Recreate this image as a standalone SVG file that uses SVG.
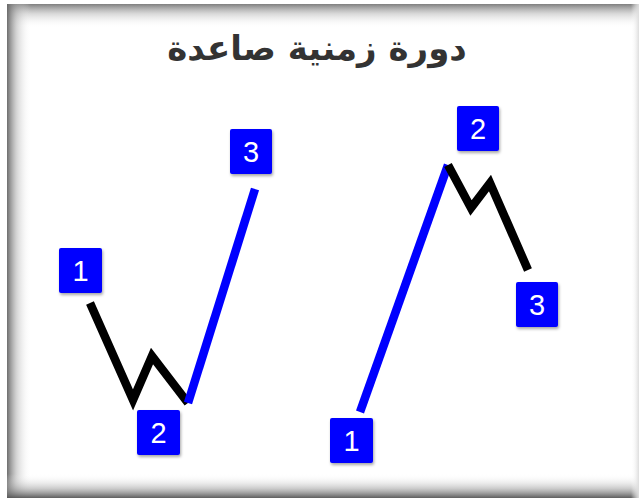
<svg xmlns="http://www.w3.org/2000/svg" width="639" height="498" viewBox="0 0 639 498">
<defs>
<linearGradient id="gTop" x1="0" y1="0" x2="0" y2="1"><stop offset="0" stop-color="#707070" stop-opacity="0.9"/><stop offset="0.4" stop-color="#b0b0b0" stop-opacity="0.5"/><stop offset="1" stop-color="#ffffff" stop-opacity="0"/></linearGradient>
<linearGradient id="gLeft" x1="0" y1="0" x2="1" y2="0"><stop offset="0" stop-color="#666" stop-opacity="0.95"/><stop offset="0.4" stop-color="#aaa" stop-opacity="0.5"/><stop offset="1" stop-color="#fff" stop-opacity="0"/></linearGradient>
<linearGradient id="gBottom" x1="0" y1="1" x2="0" y2="0"><stop offset="0" stop-color="#555" stop-opacity="0.95"/><stop offset="0.4" stop-color="#999" stop-opacity="0.5"/><stop offset="1" stop-color="#fff" stop-opacity="0"/></linearGradient>
<linearGradient id="gRight" x1="1" y1="0" x2="0" y2="0"><stop offset="0" stop-color="#ddd"/><stop offset="1" stop-color="#fff" stop-opacity="0"/></linearGradient>
<filter id="sh" x="-20%" y="-20%" width="150%" height="150%"><feDropShadow dx="1" dy="2" stdDeviation="1.5" flood-color="#000" flood-opacity="0.35"/></filter>
</defs>
<style>
.box{fill:#0000ff;filter:url(#sh)}
.num{font-family:"Liberation Sans",Arial,sans-serif;font-size:29px;fill:#ffffff;text-anchor:middle}
.blk{fill:none;stroke:#000;stroke-width:8.5;stroke-linejoin:miter;stroke-linecap:butt}
.blu{fill:none;stroke:#0000ff;stroke-width:8.5;stroke-linecap:butt}
.title{font-family:"DejaVu Sans",sans-serif;font-weight:bold;font-size:34px;fill:#333;text-anchor:middle}
</style>
<rect x="0" y="0" width="639" height="498" fill="#fff"/>
<g id="frame">
<rect x="7" y="4" width="632" height="24" fill="url(#gTop)"/>
<rect x="7" y="4" width="24" height="494" fill="url(#gLeft)"/>
<rect x="7" y="474" width="632" height="24" fill="url(#gBottom)"/>
<rect x="631" y="4" width="8" height="494" fill="url(#gRight)"/>
</g>
<text id="title" class="title" x="317" y="60" direction="rtl">دورة زمنية صاعدة</text>
<g id="connectors">
<polyline class="blk" points="90,303 133,400 152,356 188,403"/>
<line class="blu" x1="188" y1="403" x2="255" y2="189"/>
<line class="blu" x1="360" y1="412" x2="448" y2="165"/>
<polyline class="blk" points="448,165 471,208 490,183 528,270"/>
</g>
<g id="L1"><rect class="box" x="59" y="248" width="43" height="45" rx="2"/><text class="num" x="80.5" y="281">1</text></g>
<g id="L2"><rect class="box" x="137" y="410" width="43" height="45" rx="2"/><text class="num" x="158.5" y="443">2</text></g>
<g id="L3"><rect class="box" x="230" y="129" width="42" height="45" rx="2"/><text class="num" x="251" y="162">3</text></g>
<g id="R1"><rect class="box" x="330" y="418" width="43" height="45" rx="2"/><text class="num" x="351.5" y="451">1</text></g>
<g id="R2"><rect class="box" x="457" y="106" width="42" height="45" rx="2"/><text class="num" x="478" y="139">2</text></g>
<g id="R3"><rect class="box" x="516" y="282" width="42" height="45" rx="2"/><text class="num" x="537" y="315">3</text></g>
</svg>
